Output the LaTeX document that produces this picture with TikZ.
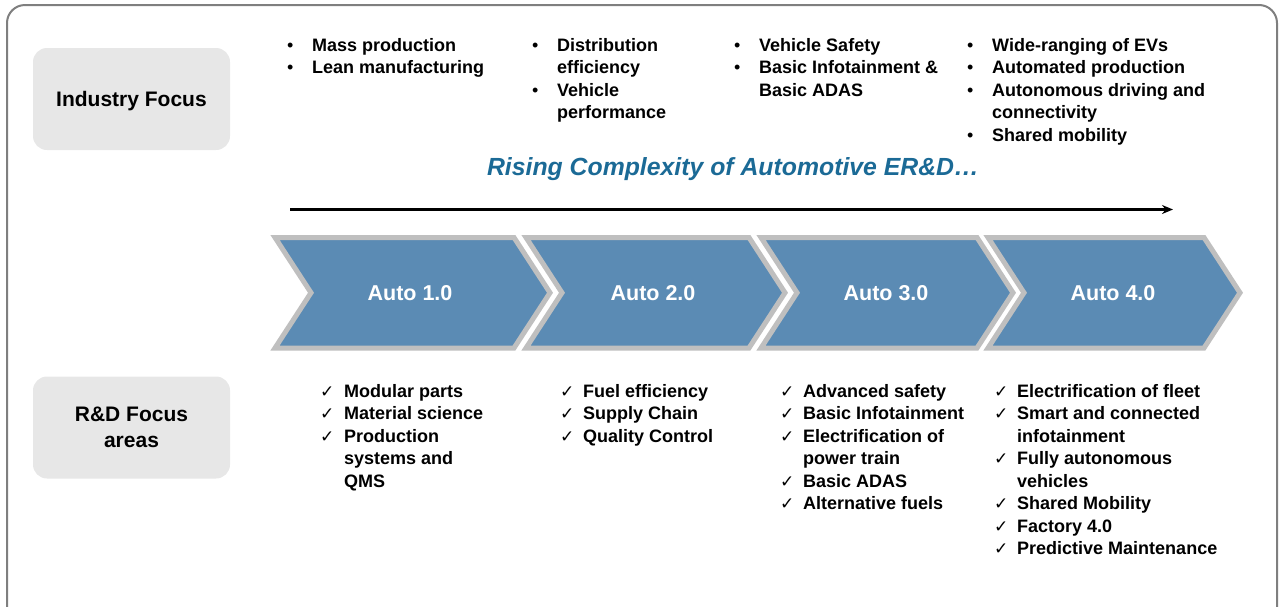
\documentclass[tikz,border=0pt]{standalone}
\usepackage{fontspec}
\setmainfont{Liberation Sans}
\newfontfamily\checkfont{DejaVu Sans}
\usetikzlibrary{arrows.meta}
\definecolor{stageblue}{RGB}{91,139,180}
\definecolor{stageedge}{RGB}{191,191,191}
\definecolor{titleblue}{RGB}{27,106,150}
\definecolor{labelgray}{RGB}{231,231,231}
\definecolor{framegray}{RGB}{127,127,127}
\newcommand{\listfont}{\bfseries\fontsize{18}{22.5}\selectfont}
\newcommand{\dotitem}{{\mdseries\textbullet}}
\newcommand{\tickitem}{{\checkfont\fontsize{17}{17}\selectfont ✓}}
\newcommand{\autostage}[5]{\draw[stagebox] (#1,237.5) -- (#2-36,237.5) -- (#2,292.75) -- (#2-36,348) -- (#1,348) -- (#1+36,292.75) -- cycle;
	\node[stagelabel] (#4) at (#3,293) {#5}}
\tikzset{
	stagebox/.style={fill=stageblue,draw=stageedge,line width=5pt,line join=miter},
	stagelabel/.style={text=white,font=\bfseries\fontsize{21.5}{26}\selectfont,inner sep=0pt},
	focusbox/.style={fill=labelgray,rounded corners=14pt,minimum width=197pt,minimum height=102pt,align=center,font=\bfseries\fontsize{21}{26}\selectfont},
	focuslist/.style={anchor=base west,inner sep=0pt,font=\listfont}
}

\begin{document}
\begin{tikzpicture}[x=1pt,y=-1pt]
					\useasboundingbox (0,0) rectangle (1279,606);
					\draw[framegray,line width=2pt,rounded corners=18pt] (7,5) rectangle (1277,630);
					
					\node[focusbox,text depth=0pt] (industry) at (131.5,99) {Industry Focus};
					\node[focusbox] (rdareas) at (131.5,427.5) {R\&D Focus\\areas};
					
					\node[focuslist] (ind1) at (287,51) {\begin{tabular}[t]{@{}p{25pt}@{}l@{}}
						\dotitem & Mass production\\
						\dotitem & Lean manufacturing
					\end{tabular}};
					\node[focuslist] (ind2) at (532,51) {\begin{tabular}[t]{@{}p{25pt}@{}l@{}}
						\dotitem & Distribution\\
						& efficiency\\
						\dotitem & Vehicle\\
						& performance
					\end{tabular}};
					\node[focuslist] (ind3) at (734,51) {\begin{tabular}[t]{@{}p{25pt}@{}l@{}}
						\dotitem & Vehicle Safety\\
						\dotitem & Basic Infotainment \&\\
						& Basic ADAS
					\end{tabular}};
					\node[focuslist] (ind4) at (967,51) {\begin{tabular}[t]{@{}p{25pt}@{}l@{}}
						\dotitem & Wide-ranging of EVs\\
						\dotitem & Automated production\\
						\dotitem & Autonomous driving and\\
						& connectivity\\
						\dotitem & Shared mobility
					\end{tabular}};
					
					\node[text=titleblue,font=\bfseries\itshape\fontsize{24.8}{28}\selectfont] (complexity) at (733,169) {Rising Complexity of Automotive ER\&D…};
					\coordinate (risestart) at (290,209.5);
					\coordinate (riseend) at (1173,209.5);
					\draw[line width=2.6pt,-{Stealth[length=11pt,width=9pt]}] (risestart) -- (riseend);
					
					\autostage{988}{1240}{1113}{auto4}{Auto 4.0};
					\autostage{761}{1013}{886}{auto3}{Auto 3.0};
					\autostage{526}{785}{653}{auto2}{Auto 2.0};
					\autostage{275}{550}{410}{auto1}{Auto 1.0};
					
					\node[focuslist] (rd1) at (320,397) {\begin{tabular}[t]{@{}p{24pt}@{}l@{}}
						\tickitem & Modular parts\\
						\tickitem & Material science\\
						\tickitem & Production\\
						& systems and\\
						& QMS
					\end{tabular}};
					\node[focuslist] (rd2) at (560,397) {\begin{tabular}[t]{@{}p{23pt}@{}l@{}}
						\tickitem & Fuel efficiency\\
						\tickitem & Supply Chain\\
						\tickitem & Quality Control
					\end{tabular}};
					\node[focuslist] (rd3) at (780,397) {\begin{tabular}[t]{@{}p{23pt}@{}l@{}}
						\tickitem & Advanced safety\\
						\tickitem & Basic Infotainment\\
						\tickitem & Electrification of\\
						& power train\\
						\tickitem & Basic ADAS\\
						\tickitem & Alternative fuels
					\end{tabular}};
					\node[focuslist] (rd4) at (994,397) {\begin{tabular}[t]{@{}p{23pt}@{}l@{}}
						\tickitem & Electrification of fleet\\
						\tickitem & Smart and connected\\
						& infotainment\\
						\tickitem & Fully autonomous\\
						& vehicles\\
						\tickitem & Shared Mobility\\
						\tickitem & Factory 4.0\\
						\tickitem & Predictive Maintenance
					\end{tabular}};
				\end{tikzpicture}
\end{document}
